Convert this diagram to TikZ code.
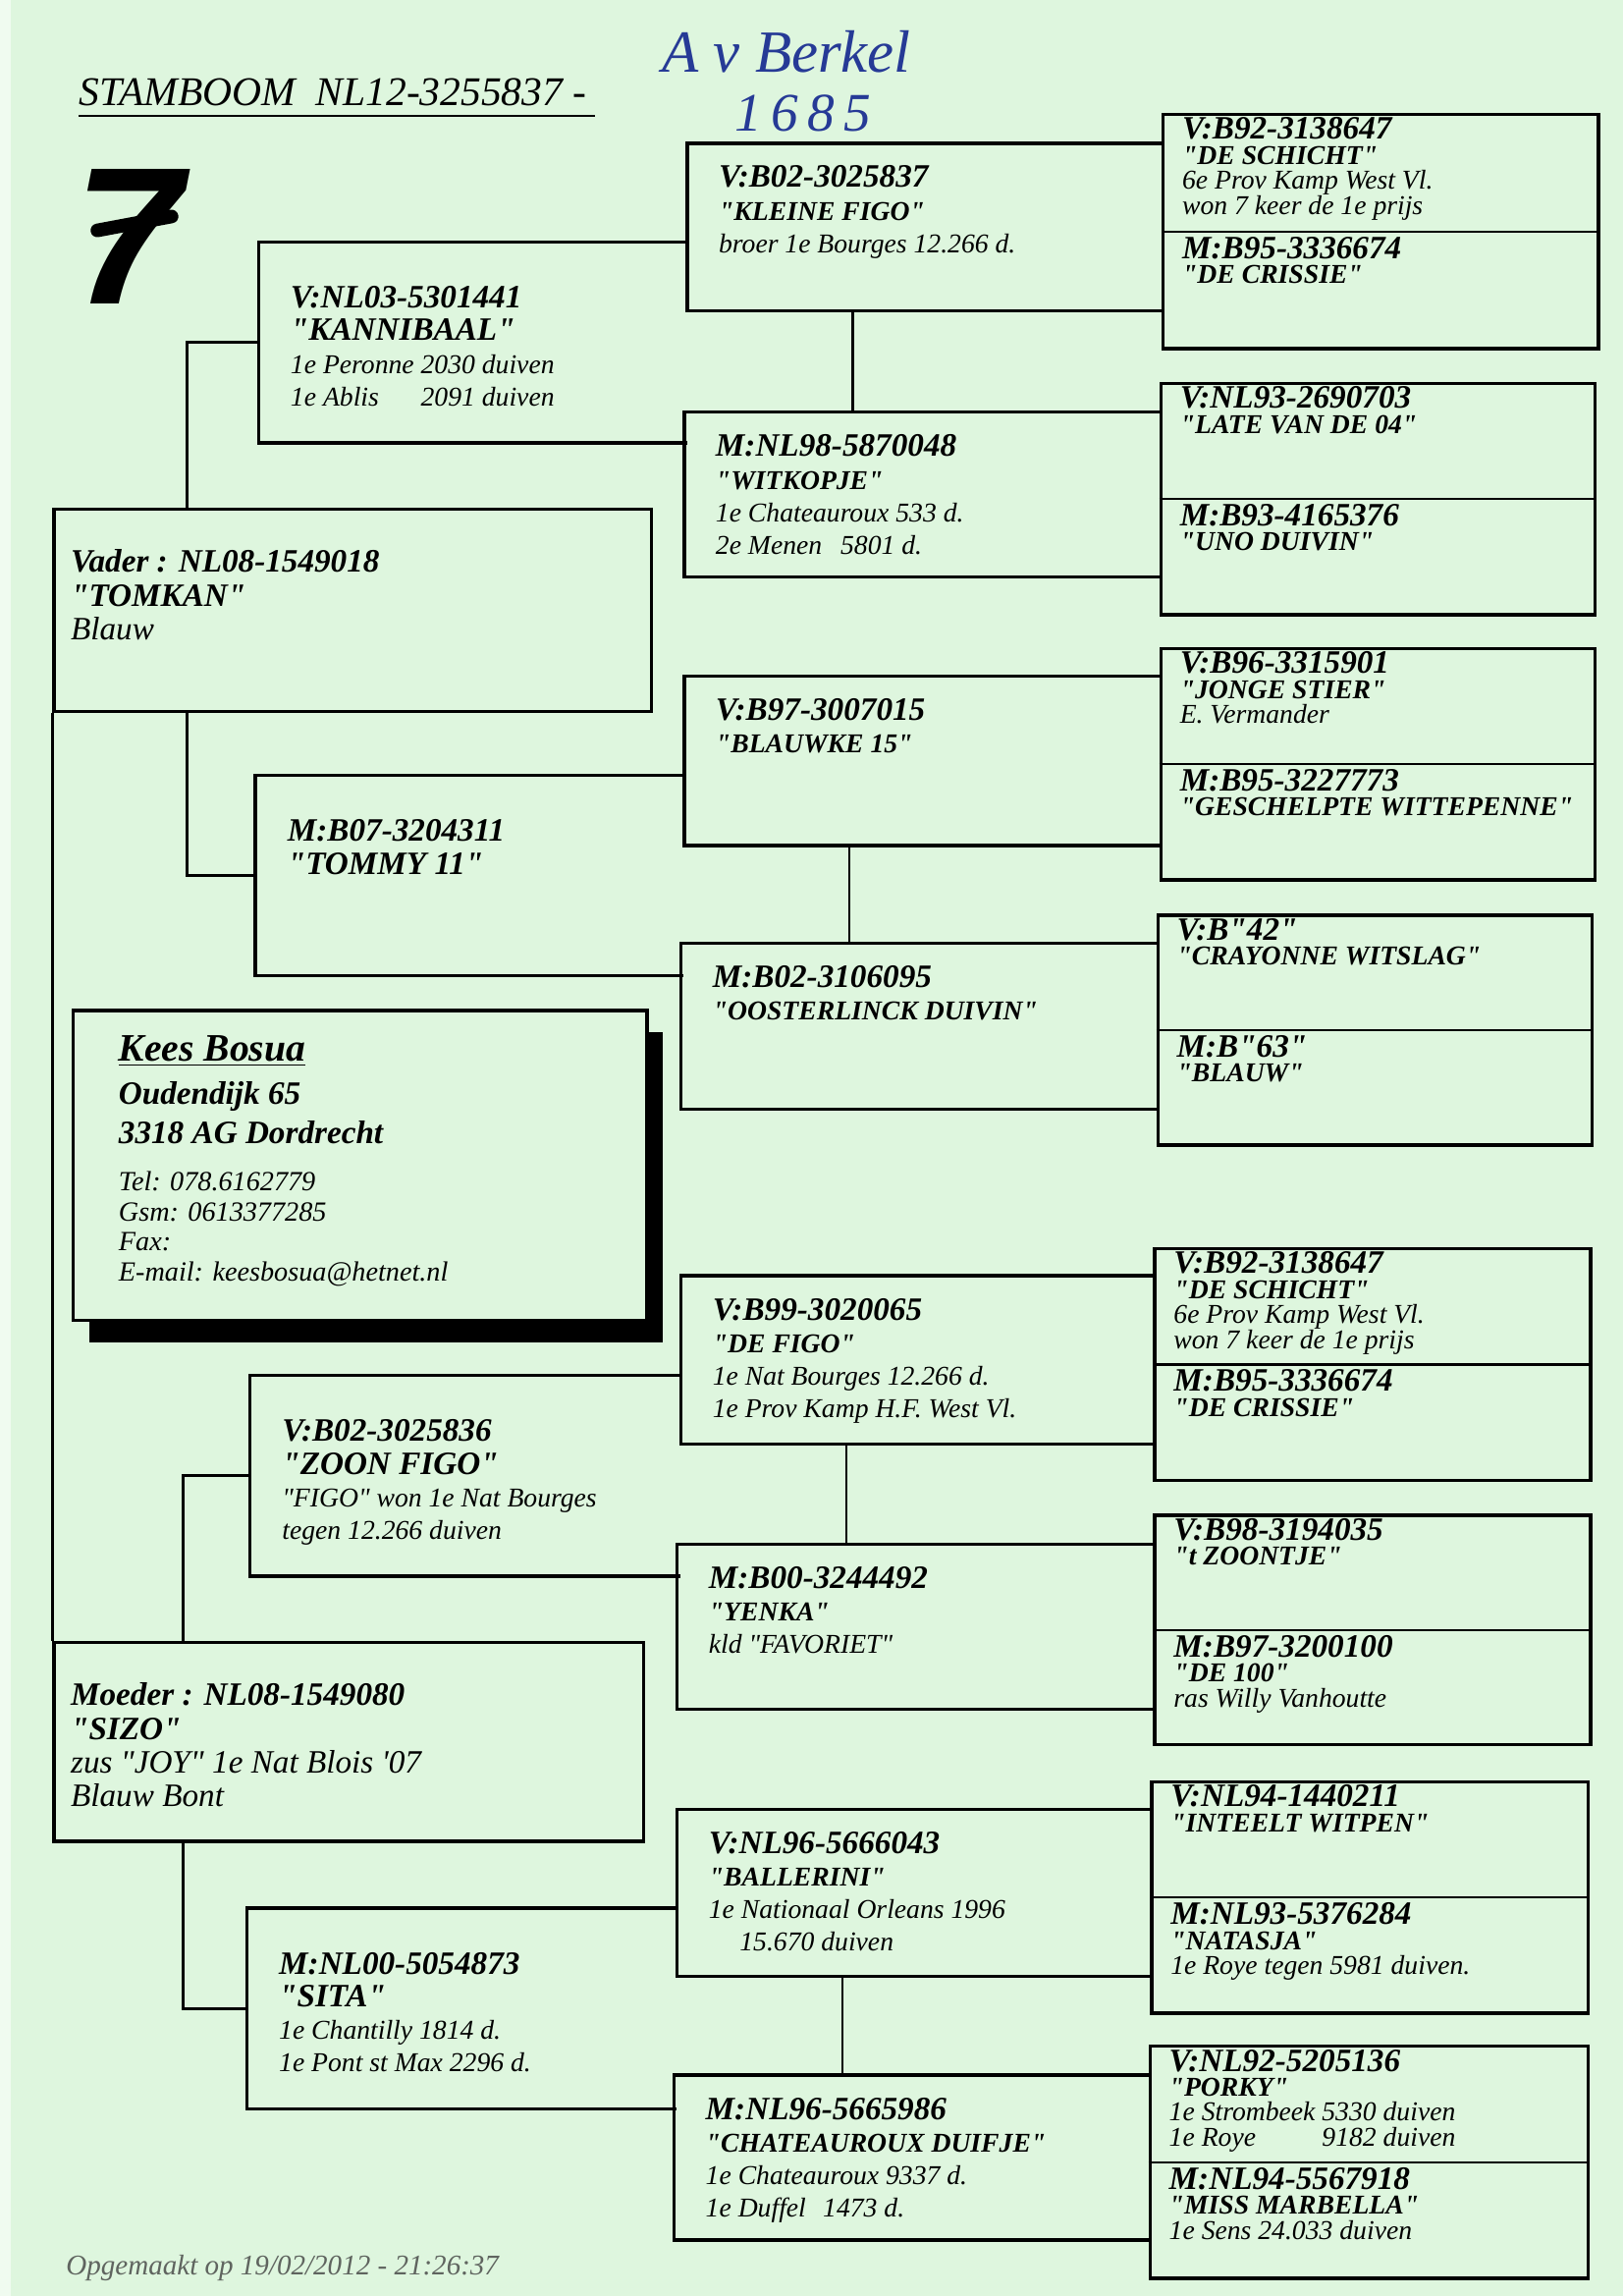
\documentclass[tikz,border=0pt]{standalone}
\usepackage{fontspec}
\setmainfont{Liberation Serif}
\newfontfamily\markerfont{Liberation Sans}
\usetikzlibrary{calc,fit,shadows}

\definecolor{paper}{RGB}{222,246,222}
\definecolor{ink}{RGB}{38,58,150}
\definecolor{stamp}{RGB}{95,100,95}

% line fonts
\newcommand{\ringno}{\fontsize{12}{12}\selectfont\bfseries\itshape}
\newcommand{\pigeon}{\fontsize{10}{10}\selectfont\bfseries\itshape}
% straight double quotes round a name
\newcommand{\qq}[1]{\textquotedbl#1\textquotedbl}

\begin{document}
\begin{tikzpicture}[x=1mm, y=-1mm,
  shut/.style={draw, line width=1.2pt, inner sep=0pt},
  open/.style={inner sep=0pt},
  side/.style={line width=1.2pt},
  link/.style={line width=0.8pt},
  split/.style={line width=0.9pt},
  outer/.style={anchor=north west, inner sep=0pt, align=left, font=\fontsize{10}{9.2}\selectfont\itshape},
  inner/.style={anchor=north west, inner sep=0pt, align=left, font=\fontsize{10}{12}\selectfont\itshape},
  parent/.style={anchor=north west, inner sep=0pt, align=left, font=\fontsize{12}{12.4}\selectfont\itshape}
]

% page
\useasboundingbox (0,0) rectangle (210,297);
\fill[paper] (0,0) rectangle (210,297);
\fill[white!55!paper] (0,0) rectangle (1.4,297);

% heading
\node[anchor=base west, inner sep=0pt, font=\fontsize{15}{15}\selectfont\itshape] (title) at (10.2,13.7)
  {STAMBOOM\hspace{2.6mm}NL12-3255837 -};
\draw[line width=0.7pt] ([yshift=-1.3mm]title.base west) -- ([xshift=1mm, yshift=-1.3mm]title.base east);

\node[anchor=base west, inner sep=0pt, text=ink, font=\fontsize{22}{22}\selectfont\itshape] (owner) at (85.6,9.3) {A v Berkel};
\node[anchor=base west, inner sep=0pt, text=ink, font=\fontsize{20}{20}\selectfont\itshape] (number) at (95.0,17.0) {1\,6\,8\,5};
\node[inner sep=0pt, font=\markerfont\fontsize{72}{72}\selectfont\bfseries\itshape] (seven) at (16.6,30.6) {7};
\draw[line width=5pt, line cap=round] (12.6,29.8) -- (22.2,28.0);

% last generation, two birds per box
\node[shut, fit={(150.5,14.8) (206.8,45.1)}] (pair1) {};
\node[shut, fit={(150.2,49.6) (206.4,79.5)}] (pair2) {};
\node[shut, fit={(150.2,83.9) (206.4,113.8)}] (pair3) {};
\node[shut, fit={(149.8,118.4) (206.0,148.1)}] (pair4) {};
\node[shut, fit={(149.4,161.5) (205.8,191.5)}] (pair5) {};
\node[shut, fit={(149.4,196.0) (205.8,225.7)}] (pair6) {};
\node[shut, fit={(149.0,230.5) (205.5,260.4)}] (pair7) {};
\node[shut, fit={(148.8,264.7) (205.5,294.7)}] (pair8) {};
\foreach \i in {1,...,8}
  \draw[split] (pair\i.west) -- (pair\i.east);

% great-grandparents
\node[open, fit={(89.0,18.6) (150.5,40.1)}] (kleinefigo) {};
\node[open, fit={(88.6,53.4) (150.2,74.6)}] (witkopje) {};
\node[open, fit={(88.6,87.5) (150.2,109.3)}] (blauwke) {};
\node[open, fit={(88.2,122.1) (149.8,143.4)}] (oosterlinck) {};
\node[open, fit={(88.2,165.1) (149.4,186.7)}] (defigo) {};
\node[open, fit={(87.7,199.8) (149.4,221.0)}] (yenka) {};
\node[open, fit={(87.7,234.1) (149.0,255.6)}] (ballerini) {};
\node[open, fit={(87.3,268.5) (148.8,289.7)}] (chateauroux) {};

% grandparents
\node[open, fit={(33.5,31.4) (88.8,57.2)}] (kannibaal) {};
\node[open, fit={(33.1,100.4) (88.4,126.1)}] (tommy) {};
\node[open, fit={(32.4,178.0) (88.0,203.8)}] (zoonfigo) {};
\node[open, fit={(32.0,246.9) (87.5,272.7)}] (sita) {};

\foreach \n in {kannibaal,tommy,zoonfigo,sita,kleinefigo,witkopje,blauwke,oosterlinck,defigo,yenka,ballerini,chateauroux}
  \draw[side] (\n.north east) -- (\n.north west) -- (\n.south west) -- (\n.south east);

% parents
\node[shut, fit={(7.0,65.9) (84.3,92.0)}] (vader) {};
\node[shut, fit={(7.0,212.5) (83.3,238.2)}] (moeder) {};

% breeder card
\node[shut, fill=paper, drop shadow={shadow xshift=2mm, shadow yshift=-2.8mm, opacity=1, fill=black},
  fit={(9.5,130.7) (83.7,170.8)}] (kees) {};

% connectors
\draw[side] (vader.south west) -- (moeder.north west);
\draw[side] ($(vader.north west)+(17.4,0)$) |- (kannibaal.west);
\draw[side] ($(vader.south west)+(17.4,0)$) |- (tommy.west);
\draw[side] ($(moeder.north west)+(16.9,0)$) |- (zoonfigo.west);
\draw[side] ($(moeder.south west)+(16.9,0)$) |- (sita.west);
\foreach \a/\b in {kleinefigo/witkopje, blauwke/oosterlinck, defigo/yenka, ballerini/chateauroux}
  \draw[link] ($(\a.south west)+(21.4,0)$) coordinate (c) -- (c |- \b.north);

% texts, last generation
\node[outer] (t-pair1v) at ($(pair1.north west)+(2.6,0.55)$)
  {{\ringno V:B92-3138647}\\{\pigeon \qq{DE SCHICHT}}\\6e Prov Kamp West Vl.\\won 7 keer de 1e prijs};
\node[outer] (t-pair1m) at ($(pair1.west)+(2.6,0.6)$)
  {{\ringno M:B95-3336674}\\{\pigeon \qq{DE CRISSIE}}};
\node[outer] (t-pair2v) at ($(pair2.north west)+(2.6,0.55)$)
  {{\ringno V:NL93-2690703}\\{\pigeon \qq{LATE VAN DE 04}}};
\node[outer] (t-pair2m) at ($(pair2.west)+(2.6,0.6)$)
  {{\ringno M:B93-4165376}\\{\pigeon \qq{UNO DUIVIN}}};
\node[outer] (t-pair3v) at ($(pair3.north west)+(2.6,0.55)$)
  {{\ringno V:B96-3315901}\\{\pigeon \qq{JONGE STIER}}\\E. Vermander};
\node[outer] (t-pair3m) at ($(pair3.west)+(2.6,0.6)$)
  {{\ringno M:B95-3227773}\\{\pigeon \qq{GESCHELPTE WITTEPENNE}}};
\node[outer] (t-pair4v) at ($(pair4.north west)+(2.6,0.55)$)
  {{\ringno V:B\qq{42}}\\{\pigeon \qq{CRAYONNE WITSLAG}}};
\node[outer] (t-pair4m) at ($(pair4.west)+(2.6,0.6)$)
  {{\ringno M:B\qq{63}}\\{\pigeon \qq{BLAUW}}};
\node[outer] (t-pair5v) at ($(pair5.north west)+(2.6,0.55)$)
  {{\ringno V:B92-3138647}\\{\pigeon \qq{DE SCHICHT}}\\6e Prov Kamp West Vl.\\won 7 keer de 1e prijs};
\node[outer] (t-pair5m) at ($(pair5.west)+(2.6,0.6)$)
  {{\ringno M:B95-3336674}\\{\pigeon \qq{DE CRISSIE}}};
\node[outer] (t-pair6v) at ($(pair6.north west)+(2.6,0.55)$)
  {{\ringno V:B98-3194035}\\{\pigeon \qq{t ZOONTJE}}};
\node[outer] (t-pair6m) at ($(pair6.west)+(2.6,0.6)$)
  {{\ringno M:B97-3200100}\\{\pigeon \qq{DE 100}}\\ras Willy Vanhoutte};
\node[outer] (t-pair7v) at ($(pair7.north west)+(2.6,0.55)$)
  {{\ringno V:NL94-1440211}\\{\pigeon \qq{INTEELT WITPEN}}};
\node[outer] (t-pair7m) at ($(pair7.west)+(2.6,0.6)$)
  {{\ringno M:NL93-5376284}\\{\pigeon \qq{NATASJA}}\\1e Roye tegen 5981 duiven.};
\node[outer] (t-pair8v) at ($(pair8.north west)+(2.6,0.55)$)
  {{\ringno V:NL92-5205136}\\{\pigeon \qq{PORKY}}\\1e Strombeek 5330 duiven\\\rlap{1e Roye}\hphantom{1e Strombeek} 9182 duiven};
\node[outer] (t-pair8m) at ($(pair8.west)+(2.6,0.6)$)
  {{\ringno M:NL94-5567918}\\{\pigeon \qq{MISS MARBELLA}}\\1e Sens 24.033 duiven};

% texts, great-grandparents
\node[inner] (t-kleinefigo) at ($(kleinefigo.north west)+(4.0,2.85)$)
  {{\ringno V:B02-3025837}\\{\pigeon \qq{KLEINE FIGO}}\\broer 1e Bourges 12.266 d.};
\node[inner] (t-witkopje) at ($(witkopje.north west)+(4.0,2.85)$)
  {{\ringno M:NL98-5870048}\\{\pigeon \qq{WITKOPJE}}\\1e Chateauroux 533 d.\\2e Menen\hspace{2.4mm}5801 d.};
\node[inner] (t-blauwke) at ($(blauwke.north west)+(4.0,2.85)$)
  {{\ringno V:B97-3007015}\\{\pigeon \qq{BLAUWKE 15}}};
\node[inner] (t-oosterlinck) at ($(oosterlinck.north west)+(4.0,2.85)$)
  {{\ringno M:B02-3106095}\\{\pigeon \qq{OOSTERLINCK DUIVIN}}};
\node[inner] (t-defigo) at ($(defigo.north west)+(4.0,2.85)$)
  {{\ringno V:B99-3020065}\\{\pigeon \qq{DE FIGO}}\\1e Nat Bourges 12.266 d.\\1e Prov Kamp H.F. West Vl.};
\node[inner] (t-yenka) at ($(yenka.north west)+(4.0,2.85)$)
  {{\ringno M:B00-3244492}\\{\pigeon \qq{YENKA}}\\kld \qq{FAVORIET}};
\node[inner] (t-ballerini) at ($(ballerini.north west)+(4.0,2.85)$)
  {{\ringno V:NL96-5666043}\\{\pigeon \qq{BALLERINI}}\\1e Nationaal Orleans 1996\\\hspace*{4mm}15.670 duiven};
\node[inner] (t-chateauroux) at ($(chateauroux.north west)+(4.0,2.85)$)
  {{\ringno M:NL96-5665986}\\{\pigeon \qq{CHATEAUROUX DUIFJE}}\\1e Chateauroux 9337 d.\\1e Duffel\hspace{2.2mm}1473 d.};

% texts, grandparents
\node[inner] (t-kannibaal) at ($(kannibaal.north west)+(4.1,5.65)$)
  {{\ringno V:NL03-5301441}\\{\ringno \qq{KANNIBAAL}}\\1e Peronne 2030 duiven\\\rlap{1e Ablis}\hphantom{1e Peronne} 2091 duiven};
\node[inner] (t-tommy) at ($(tommy.north west)+(4.1,5.65)$)
  {{\ringno M:B07-3204311}\\{\ringno \qq{TOMMY 11}}};
\node[inner] (t-zoonfigo) at ($(zoonfigo.north west)+(4.1,5.65)$)
  {{\ringno V:B02-3025836}\\{\ringno \qq{ZOON FIGO}}\\\qq{FIGO} won 1e Nat Bourges\\tegen 12.266 duiven};
\node[inner] (t-sita) at ($(sita.north west)+(4.1,5.65)$)
  {{\ringno M:NL00-5054873}\\{\ringno \qq{SITA}}\\1e Chantilly 1814 d.\\1e Pont st Max 2296 d.};

% texts, parents
\node[parent] (t-vader) at ($(vader.north west)+(2.3,5.35)$)
  {{\ringno Vader : NL08-1549018}\\{\ringno \qq{TOMKAN}}\\Blauw};
\node[parent] (t-moeder) at ($(moeder.north west)+(2.3,5.35)$)
  {{\ringno Moeder : NL08-1549080}\\{\ringno \qq{SIZO}}\\zus \qq{JOY} 1e Nat Blois \textquotesingle 07\\Blauw Bont};

% breeder
\node[anchor=north west, inner sep=0pt, align=left, font=\fontsize{10.2}{11}\selectfont\itshape] (t-kees)
  at ($(kees.north west)+(6.0,3.4)$)
  {{\fontsize{14.3}{11}\selectfont\bfseries\itshape\underline{Kees Bosua}}\\[5pt]
   {\ringno Oudendijk 65}\\[3.5pt]
   {\ringno 3318 AG Dordrecht}\\[6.3pt]
   Tel: 078.6162779\\Gsm: 0613377285\\Fax:\\E-mail: keesbosua@hetnet.nl};

\node[anchor=base west, inner sep=0pt, text=stamp, font=\fontsize{10.5}{10.5}\selectfont\itshape] (made) at (8.5,294.3)
  {Opgemaakt op 19/02/2012 - 21:26:37};

\end{tikzpicture}
\end{document}
